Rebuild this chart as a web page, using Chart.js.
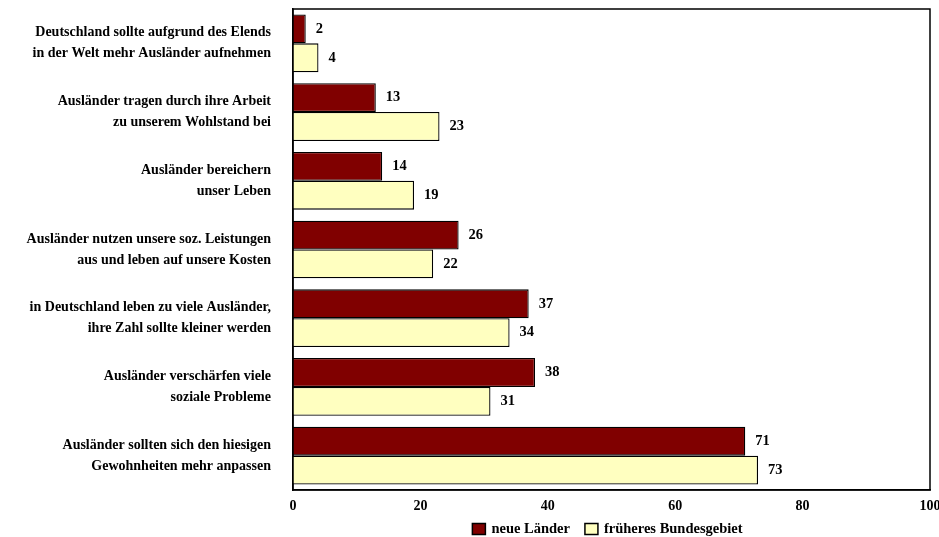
<!DOCTYPE html>
<html>
<head>
<meta charset="utf-8">
<script src="https://cdn.jsdelivr.net/npm/chart.js@4/dist/chart.umd.min.js"></script>
<style>
  html, body { margin: 0; padding: 0; background: #fff; }
  #wrap { width: 939px; height: 537px; position: relative; }
</style>
</head>
<body>
<div id="wrap"><canvas id="chart"></canvas></div>
<script>
const categories = [
    ['Deutschland sollte aufgrund des Elends', 'in der Welt mehr Ausländer aufnehmen'],
    ['Ausländer tragen durch ihre Arbeit', 'zu unserem Wohlstand bei'],
    ['Ausländer bereichern', 'unser Leben'],
    ['Ausländer nutzen unsere soz. Leistungen', 'aus und leben auf unsere Kosten'],
    ['in Deutschland leben zu viele Ausländer,', 'ihre Zahl sollte kleiner werden'],
    ['Ausländer verschärfen viele', 'soziale Probleme'],
    ['Ausländer sollten sich den hiesigen', 'Gewohnheiten mehr anpassen']
];
const neueLaender = [2, 13, 14, 26, 37, 38, 71];
const fruehBund = [4, 23, 19, 22, 34, 31, 73];
const seriesNames = ['neue Länder', 'früheres Bundesgebiet'];
const xTicks = [0, 20, 40, 60, 80, 100];

const serif = '"Liberation Serif", "Times New Roman", serif';

// no extra room for half labels at the scale ends
function noPad(scale) {
    scale.paddingTop = 0;
    scale.paddingBottom = 0;
    scale.paddingLeft = 0;
    scale.paddingRight = 0;
}

// frame, value labels and legend
const extras = {
    id: 'extras',
    afterDatasetsDraw(chart) {
        const ctx = chart.ctx;
        const a = chart.chartArea;
        ctx.save();
        ctx.strokeStyle = '#000';
        ctx.lineWidth = 1.5;
        ctx.strokeRect(a.left, a.top, a.right - a.left, a.bottom - a.top);

        ctx.font = 'bold 14.5px ' + serif;
        ctx.fillStyle = '#000';
        ctx.textAlign = 'left';
        ctx.textBaseline = 'middle';
        chart.data.datasets.forEach((ds, i) => {
            chart.getDatasetMeta(i).data.forEach((bar, j) => {
                ctx.fillText(String(ds.data[j]), bar.x + 10, bar.y);
            });
        });

        // legend, centred under the plot area
        const bw = 13, bh = 11, gap = 6, between = 15;
        const widths = seriesNames.map(n => ctx.measureText(n).width);
        const total = widths.reduce((s, w) => s + bw + gap + w, 0) + between;
        let x = (a.left + a.right) / 2 - total / 2 - 4;
        const y = 529;
        chart.data.datasets.forEach((ds, i) => {
            ctx.fillStyle = ds.backgroundColor;
            ctx.fillRect(x, y - bh / 2, bw, bh);
            ctx.strokeStyle = '#000';
            ctx.lineWidth = 1.5;
            ctx.strokeRect(x, y - bh / 2, bw, bh);
            ctx.fillStyle = '#000';
            ctx.fillText(seriesNames[i], x + bw + gap, y);
            x += bw + gap + widths[i] + between;
        });
        ctx.restore();
    }
};

new Chart(document.getElementById('chart'), {
    type: 'bar',
    data: {
        labels: categories,
        datasets: [{
            label: seriesNames[0],
            data: neueLaender,
            backgroundColor: '#800000',
            borderColor: '#000',
            borderWidth: 1.3,
            barPercentage: 1,
            categoryPercentage: 0.84
        }, {
            label: seriesNames[1],
            data: fruehBund,
            backgroundColor: '#FFFFC0',
            borderColor: '#000',
            borderWidth: 1.3,
            barPercentage: 1,
            categoryPercentage: 0.84
        }]
    },
    plugins: [extras],
    options: {
        indexAxis: 'y',
        responsive: true,
        maintainAspectRatio: false,
        animation: false,
        layout: {
            padding: { top: 9, right: 9, left: 0, bottom: 0 }
        },
        scales: {
            x: {
                min: 0,
                max: 100,
                afterBuildTicks: scale => { scale.ticks = xTicks.map(v => ({ value: v })); },
                afterFit: scale => { scale.height = 47; noPad(scale); },
                grid: { display: false, drawTicks: false },
                border: { display: true, color: '#000', width: 1.5 },
                ticks: {
                    padding: 8,
                    color: '#000',
                    font: { family: serif, size: 14, weight: 'bold' }
                }
            },
            y: {
                afterFit: scale => { scale.width = 293; noPad(scale); },
                grid: { display: false, drawTicks: false },
                border: { display: true, color: '#000', width: 1.5 },
                ticks: {
                    padding: 22,
                    color: '#000',
                    crossAlign: 'near',
                    font: { family: serif, size: 14, weight: 'bold', lineHeight: 1.5 }
                }
            }
        },
        plugins: {
            legend: { display: false },
            tooltip: { enabled: false }
        }
    }
});
</script>
</body>
</html>
